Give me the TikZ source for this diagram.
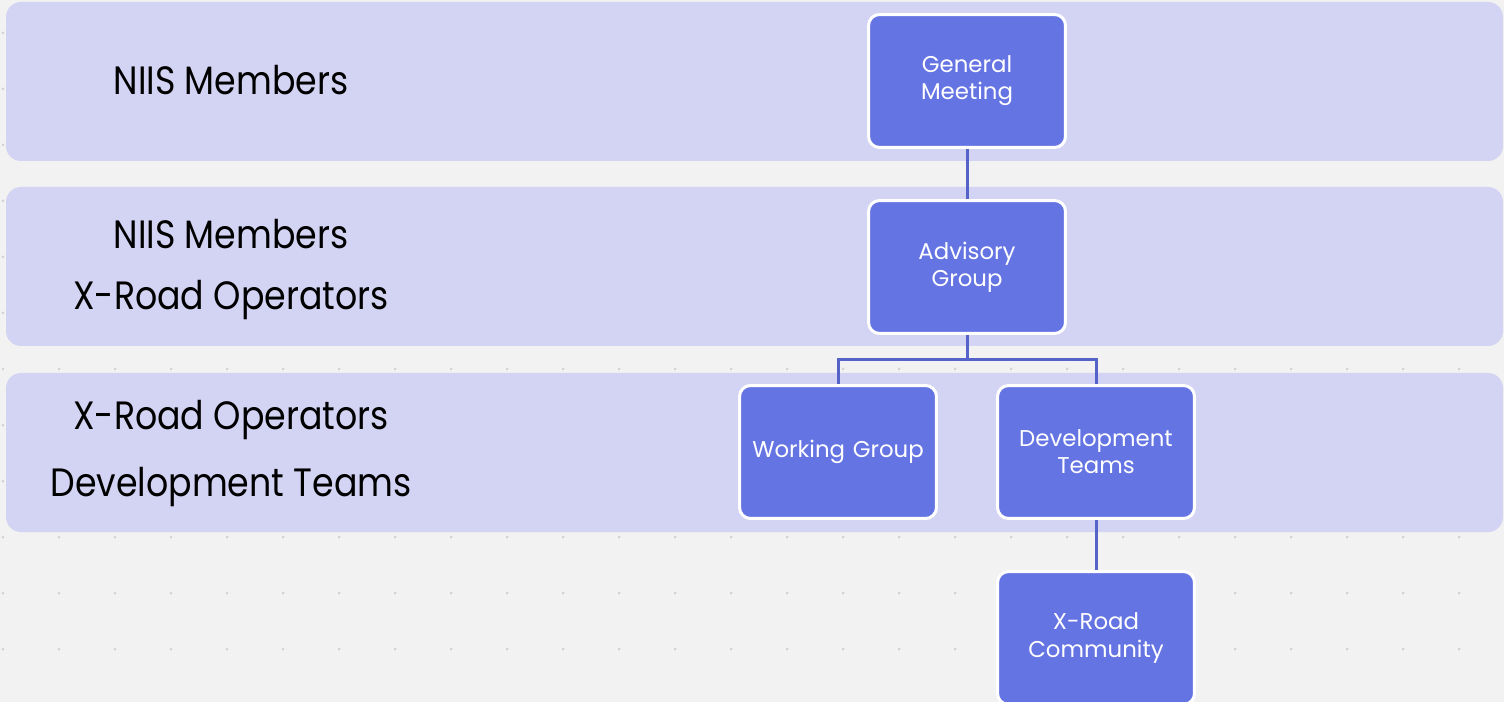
\documentclass[tikz,border=0pt]{standalone}
\usepackage{fontspec}
\setmainfont{Poppins}
\newfontfamily\bandfont[FakeStretch=0.88]{Poppins}
\usetikzlibrary{positioning}

\definecolor{pagegray}{HTML}{F2F2F2}
\definecolor{dotgray}{HTML}{D2D2D2}
\definecolor{bandblue}{HTML}{D3D4F3}
\definecolor{boxblue}{HTML}{6574E3}
\definecolor{linkblue}{HTML}{5563C9}

\tikzset{
    band/.style={fill=bandblue, rounded corners=0.3cm},
    bandtext/.style={font=\bandfont\fontsize{22.5}{27}\selectfont, text=black, align=center},
    orgbox/.style={rectangle, rounded corners=0.22cm, fill=boxblue, draw=white, line width=0.06cm,
        minimum width=3.94cm, minimum height=2.66cm, inner sep=0pt, text width=3.8cm, align=center,
        text=white, font=\fontsize{13}{15.5}\selectfont},
    link/.style={draw=linkblue, line width=0.06cm}
}

\begin{document}
\begin{tikzpicture}[x=0.02cm, y=-0.02cm]
    \useasboundingbox (0,0) rectangle (1504,702);
    \fill[pagegray] (0,0) rectangle (1504,702);

    % dotted grid behind the bands
    \foreach \i in {0,...,26}
        \foreach \j in {0,...,11}
            \fill[dotgray] (3+56*\i, 33+56*\j) circle (0.03cm);

    % bands
    \fill[band] (6,2) rectangle (1503,161);
    \fill[band] (6,187) rectangle (1503,346);
    \fill[band] (6,373) rectangle (1503,532);

    \node[bandtext] (members) at (231,80) {NIIS Members};
    \node[bandtext] (members2) at (231,234) {NIIS Members};
    \node[bandtext] (operators) at (231,300) {X-Road Operators};
    \node[bandtext] (operators2) at (231,420) {X-Road Operators};
    \node[bandtext] (devteams) at (231,487) {Development Teams};

    % organisation chart
    \node[orgbox] (general) at (967,81) {General\\Meeting};
    \node[orgbox] (advisory) at (967,267) {Advisory\\Group};
    \node[orgbox] (working) at (838,452) {Working Group};
    \node[orgbox] (development) at (1096,452) {Development\\Teams};
    \node[orgbox] (community) at (1096,638) {X-Road\\Community};

    \coordinate (split) at (967,360);

    \draw[link] (general) -- (advisory);
    \draw[link] (advisory) -- (split) -| (working);
    \draw[link] (split) -| (development);
    \draw[link] (development) -- (community);
\end{tikzpicture}
\end{document}
